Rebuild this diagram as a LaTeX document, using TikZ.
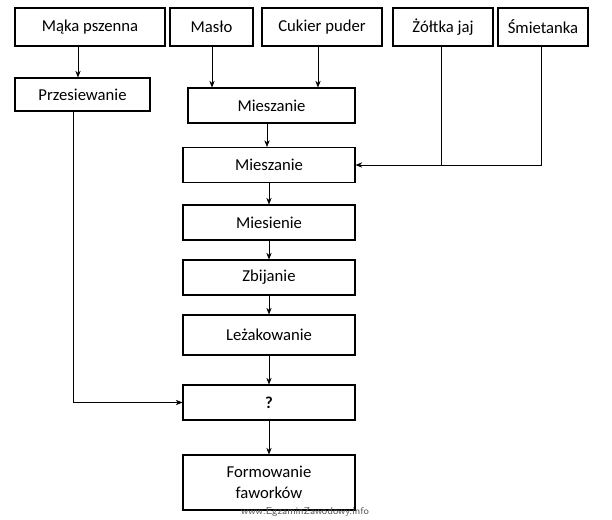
\documentclass[tikz,border=0pt]{standalone}
\usepackage{fontspec}
\setmainfont{Carlito}
\usetikzlibrary{arrows.meta}
\begin{document}
\begin{tikzpicture}[x=0.75pt, y=-0.75pt, every node/.style={font=\fontsize{12.5}{16}\selectfont},
    stepbox/.style={draw, thick, minimum width=#1*0.75pt, minimum height=35*0.75pt, inner sep=1pt, align=center},
    stepbox/.default=172,
    link/.style={-{Stealth[length=5pt,width=4pt]}}]
    \useasboundingbox (0,0) rectangle (612,520);
    % ingredients
    \node[stepbox=150, minimum height=38*0.75pt] (maka) at (90,27) {Mąka pszenna};
    \node[stepbox=83, minimum height=38*0.75pt] (maslo) at (211.5,27) {Masło};
    \node[stepbox=120, minimum height=38*0.75pt] (cukier) at (322,27) {Cukier puder};
    \node[stepbox=100, minimum height=38*0.75pt] (zoltka) at (443,27) {Żółtka jaj};
    \node[stepbox=90, minimum height=38*0.75pt] (smietanka) at (543,27) {Śmietanka};
    % process
    \node[stepbox=135, minimum height=33*0.75pt] (przesiew) at (82.5,94.5) {Przesiewanie};
    \node[stepbox=167] (miesz1) at (271.5,105.5) {Mieszanie};
    \node[stepbox] (miesz2) at (269,165) {Mieszanie};
    \node[stepbox] (miesienie) at (269,222.5) {Miesienie};
    \node[stepbox] (zbijanie) at (269,277.5) {Zbijanie};
    \node[stepbox, minimum height=40*0.75pt] (lezak) at (269,335) {Leżakowanie};
    \node[stepbox, font=\fontsize{12.5}{16}\selectfont\bfseries] (pytanie) at (269,402.5) {?};
    \node[stepbox, minimum height=55*0.75pt] (formow) at (269,482.5) {Formowanie\\faworków};
    % connectors
    \coordinate (join) at (443,165);
    \draw[link] (maka.south -| 78,0) -- (przesiew.north -| 78,0);
    \draw[link] (maslo.south -| 212,0) -- (miesz1.north -| 212,0);
    \draw[link] (cukier.south -| 318,0) -- (miesz1.north -| 318,0);
    \draw[link] (miesz1.south -| 267,0) -- (miesz2.north -| 267,0);
    \draw (zoltka.south -| 441,0) -- (441,165);
    \draw (smietanka.south -| 541,0) |- (join);
    \draw[link] (join) -- (miesz2.east);
    \draw[link] (miesz2) -- (miesienie);
    \draw[link] (miesienie) -- (zbijanie);
    \draw[link] (zbijanie) -- (lezak);
    \draw[link] (lezak) -- (pytanie);
    \draw[link] (pytanie) -- (formow);
    \draw[link] (przesiew.south -| 73,0) |- (pytanie.west);
    \node[font=\fontsize{7.5}{8}\selectfont\sffamily, text=gray!70!black] (znak) at (305,512) {www.EgzaminZawodowy.info};
\end{tikzpicture}
\end{document}
